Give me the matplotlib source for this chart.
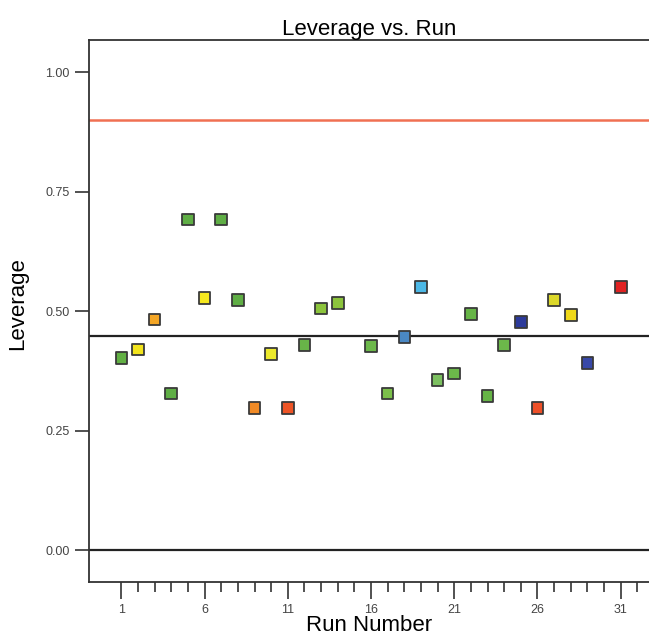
import matplotlib.pyplot as plt
from matplotlib.ticker import FixedLocator

plt.rcParams['font.family'] = ['Liberation Sans', 'DejaVu Sans']

runs = [1, 2, 3, 4, 5, 6, 7, 8, 9, 10, 11, 12, 13, 14,
        16, 17, 18, 19, 20, 21, 22, 23, 24, 25, 26, 27, 28, 29, 31]
leverage = [0.402, 0.420, 0.483, 0.328, 0.692, 0.527, 0.692, 0.523, 0.297, 0.410,
            0.297, 0.429, 0.506, 0.517, 0.427, 0.328, 0.446, 0.550, 0.356, 0.370,
            0.494, 0.322, 0.429, 0.477, 0.297, 0.523, 0.492, 0.391, 0.550]
colors = ["#62b044", "#f2e41c", "#f4a626", "#5fae45", "#5fae45", "#f6e81e", "#5fae45",
          "#5fae45", "#f08a26", "#ece92c", "#ee5426", "#68b448", "#8cc43c", "#8cc43c",
          "#6cb84a", "#7cc04a", "#4a88c4", "#4cb8e6", "#7cc060", "#6cb84a", "#66b446",
          "#66b446", "#6cb84a", "#2c3a9a", "#ee5028", "#dcd82a", "#f0d818", "#3848a8",
          "#e02222"]
limit = 0.90
avg_line = 0.448

fig = plt.figure(figsize=(6.49, 6.39), dpi=100)
ax = fig.add_axes([0.137, 0.089, 0.863, 0.848])

ax.axhline(limit, color="#f07052", lw=1.8, zorder=1)
ax.axhline(avg_line, color="#222222", lw=1.6, zorder=1)
ax.axhline(0.0, color="#222222", lw=1.6, zorder=1)

ax.scatter(runs, leverage, marker="s", s=70, c=colors,
           edgecolors="#3a3a3a", linewidths=1.3, zorder=3)

ax.set_xlim(-0.95, 32.7)
ax.set_ylim(-0.067, 1.067)

ax.xaxis.set_major_locator(FixedLocator([1, 6, 11, 16, 21, 26, 31]))
ax.xaxis.set_minor_locator(FixedLocator(range(1, 33)))
ax.yaxis.set_major_locator(FixedLocator([0.0, 0.25, 0.5, 0.75, 1.0]))
ax.set_yticklabels(["0.00", "0.25", "0.50", "0.75", "1.00"])

ax.tick_params(axis="x", which="major", direction="out", length=12, width=1.2,
               color="#333333", labelsize=9, labelcolor="#444444", pad=4)
ax.tick_params(axis="x", which="minor", direction="out", length=7, width=1.2,
               color="#333333")
ax.tick_params(axis="y", direction="out", length=10, width=1.2, color="#333333",
               labelsize=9, labelcolor="#444444", pad=4)

for side in ["left", "bottom", "top"]:
    ax.spines[side].set_color("#333333")
    ax.spines[side].set_linewidth(1.3)
ax.spines["right"].set_visible(False)

ax.set_title("Leverage vs. Run", fontsize=16, pad=4)
ax.set_xlabel("Run Number", fontsize=16, labelpad=-1)
ax.set_ylabel("Leverage", fontsize=16)
ax.yaxis.set_label_coords(-0.108, 0.515)

fig.savefig("out.png", dpi=100)
